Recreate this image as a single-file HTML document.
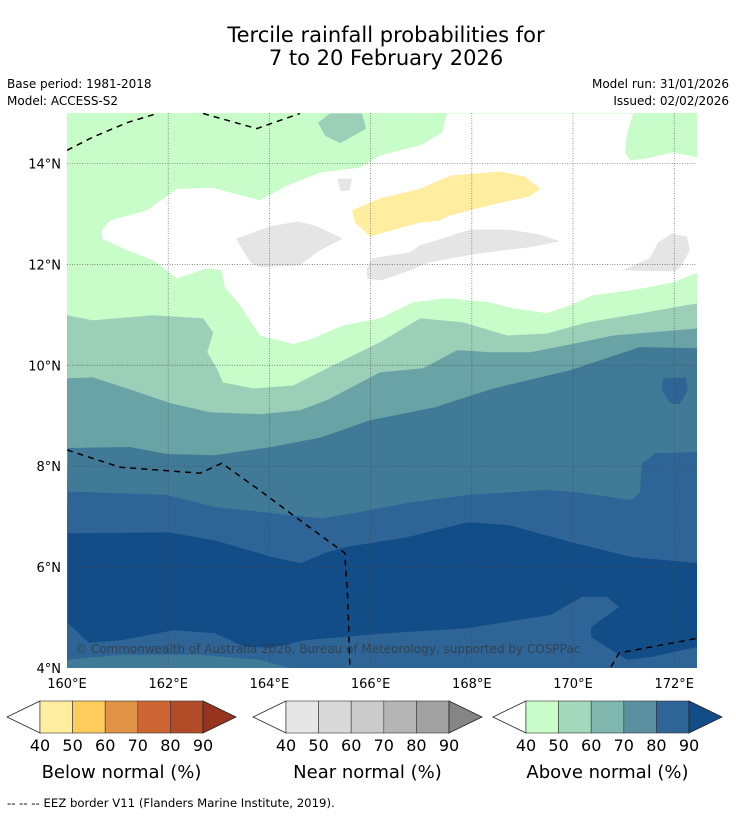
<!DOCTYPE html>
<html><head><meta charset="utf-8"><style>
html,body{margin:0;padding:0;background:#fff;}
svg{display:block;font-family:"DejaVu Sans","Liberation Sans",sans-serif;}
</style></head><body>
<svg id="chart" width="736" height="816" viewBox="0 0 736 816" xmlns="http://www.w3.org/2000/svg">
<text x="386" y="42" font-size="21" text-anchor="middle" fill="#000">Tercile rainfall probabilities for</text>
<text x="386" y="65" font-size="21" text-anchor="middle" fill="#000">7 to 20 February 2026</text>
<text x="7" y="88" font-size="12">Base period: 1981-2018</text>
<text x="7" y="105" font-size="12">Model: ACCESS-S2</text>
<text x="729" y="88" font-size="12" text-anchor="end">Model run: 31/01/2026</text>
<text x="729" y="105" font-size="12" text-anchor="end">Issued: 02/02/2026</text>
<g id="map"></g>
<g id="axes"></g>
<g id="cbars"></g>
<text x="7" y="807" font-size="11.7">--  --  -- EEZ border V11 (Flanders Marine Institute, 2019).</text>
</svg>
<script>
// ---- data (lon/lat) ----
const lonTicks = [160,162,164,166,168,170,172];
const latTicks = [4,6,8,10,12,14];
const whiteLon = [167.51,171.19,171.07,171.03,171.13,171.46,171.98,172.47,172.47,171.98,171.19,170.40,169.94,169.49,168.81,168.36,167.51,166.84,166.19,165.45,164.86,164.47,163.81,163.42,163.12,163.06,162.77,162.17,161.70,161.19,160.69,160.69,160.85,161.58,162.17,162.89,163.28,163.81,164.35,165.00,165.79,166.19,166.98,167.41];
const whiteLat = [14.99,14.99,14.61,14.22,14.06,14.10,14.22,14.12,11.84,11.64,11.49,11.39,11.19,11.03,11.13,11.25,11.33,11.25,10.93,10.79,10.53,10.42,10.59,11.19,11.54,11.88,11.92,11.72,12.08,12.28,12.51,12.67,12.87,13.07,13.50,13.52,13.41,13.27,13.56,13.82,13.92,14.16,14.36,14.61];
const blobTopLon = [165.20,165.83,165.91,165.40,165.10,164.96];
const blobTopLat = [14.99,14.99,14.69,14.40,14.55,14.81];
const grey1Lon = [163.34,164.01,164.55,164.90,165.45,165.00,164.60,163.81,163.62];
const grey1Lat = [12.51,12.75,12.85,12.77,12.51,12.28,11.98,11.94,12.04];
const grey2Lon = [165.34,165.63,165.59,165.41];
const grey2Lat = [13.70,13.70,13.47,13.45];
const grey3Lon = [165.93,166.03,166.78,166.98,167.31,167.96,168.75,169.35,169.74,169.15,168.16,167.17,166.78,166.19,165.93];
const grey3Lat = [11.92,12.12,12.24,12.38,12.48,12.69,12.69,12.59,12.46,12.34,12.22,12.04,11.88,11.68,11.72];
const grey4Lon = [170.97,171.52,171.68,171.96,172.25,172.31,172.15,172.02];
const grey4Lat = [11.88,12.12,12.44,12.61,12.55,12.28,11.98,11.86];
const yellowLon = [165.63,166.19,166.98,167.57,168.56,169.05,169.35,169.15,168.36,167.57,167.37,166.98,166.19,165.99,165.69];
const yellowLat = [13.07,13.31,13.50,13.76,13.84,13.74,13.50,13.35,13.17,12.97,12.87,12.83,12.61,12.55,12.83];
const b50Lon = [160,160.51,161.70,162.69,162.89,162.77,162.96,163.08,163.68,164.47,165.26,166.19,166.98,167.83,168.70,169.49,170.28,171.46,172.47];
const b50Lat = [10.99,10.89,10.99,10.93,10.65,10.26,9.94,9.66,9.54,9.60,10.0,10.46,10.93,10.85,10.59,10.63,10.85,11.05,11.23];
const b60Lon = [160,160.51,161.19,162.04,162.83,163.81,164.60,165.14,165.69,166.19,167.04,167.71,168.36,169.15,169.88,170.79,172.47];
const b60Lat = [9.74,9.76,9.54,9.25,9.07,9.03,9.11,9.31,9.60,9.86,9.94,10.30,10.26,10.26,10.40,10.59,10.73];
const b70Lon = [160.02,161.23,162.00,162.92,164.05,165.02,165.99,167.27,168.42,169.94,171.32,172.47];
const b70Lat = [8.36,8.38,8.24,8.22,8.38,8.57,8.91,9.17,9.54,9.90,10.36,10.34];
const b80Lon = [160.02,160.83,161.96,162.92,164.05,165.02,165.67,166.72,167.92,169.47,170.02,171.15,171.32,171.36,171.64,172.47];
const b80Lat = [7.50,7.47,7.43,7.19,7.07,6.97,7.07,7.27,7.43,7.53,7.49,7.33,7.47,8.06,8.26,8.28];
const blob80Lon = [171.78,172.23,172.27,172.11,171.91,171.76];
const blob80Lat = [9.74,9.76,9.50,9.23,9.25,9.50];
const b90TopLon = [160.02,162.00,162.92,164.05,164.62,165.10,165.51,166.72,167.92,168.74,169.94,171.15,172.47];
const b90TopLat = [6.67,6.69,6.53,6.20,6.08,6.28,6.40,6.59,6.89,6.83,6.50,6.20,6.08];
const b90BotLon = [172.47,171.56,171.07,170.36,170.36,170.91,170.67,170.18,169.55,167.92,166.32,164.70,164.05,163.50,162.92,162.11,161.07,160.43,160.02];
const b90BotLat = [4.42,4.22,4.16,4.61,4.81,5.21,5.41,5.41,5.05,4.79,4.69,4.55,4.40,4.42,4.69,4.75,4.55,4.50,4.89];
const b70BotLon = [160,161.05,162.63,163.81,164.41];
const b70BotLat = [4.16,4.26,4.26,4.16,4.0];
const eez1Lon = [160,160.51,161.19,161.78]; const eez1Lat = [14.26,14.52,14.81,14.99];
const eez2Lon = [162.69,163.75,164.60]; const eez2Lat = [14.99,14.69,14.99];
const eez3Lon = [160,161.05,162.63,163.06,163.81,164.60,165.49,165.55,165.59];
const eez3Lat = [8.32,7.98,7.86,8.06,7.52,6.93,6.28,5.35,4.0];
const eez4Lon = [170.75,170.91,172.47]; const eez4Lat = [4.02,4.30,4.59];
const cbLabels = ["40","50","60","70","80","90"];
const cbTitles = ["Below normal (%)","Near normal (%)","Above normal (%)"];

// ---- axes ----
const X0=67,X1=697,Y0=113,Y1=668,LON0=160,LON1=172.45,LAT0=4,LAT1=15;
const sx = lon => X0 + (lon-LON0)/(LON1-LON0)*(X1-X0);
const sy = lat => Y1 - (lat-LAT0)/(LAT1-LAT0)*(Y1-Y0);
const NS="http://www.w3.org/2000/svg";
function mk(tag, attrs, parent){const e=document.createElementNS(NS,tag);for(const k in attrs)e.setAttribute(k,attrs[k]);parent.appendChild(e);return e;}
const map=document.getElementById('map'), axes=document.getElementById('axes'), cb=document.getElementById('cbars');
const defs=mk('defs',{},map);
const cp=mk('clipPath',{id:'clip'},defs); mk('rect',{x:X0,y:Y0,width:X1-X0,height:Y1-Y0},cp);
const g=mk('g',{'clip-path':'url(#clip)'},map);
function pts(lo,la){return lo.map((l,i)=>sx(l).toFixed(1)+','+sy(la[i]).toFixed(1)).join(' ');}
function band(lo,la,fill,name){
  const p=mk('polygon',{points:pts(lo,la)+' '+sx(LON1+1)+','+(Y1+5)+' '+(X0-5)+','+(Y1+5),fill:fill},g);
  
  
}
function blob(lo,la,fill,name){
  const p=mk('polygon',{points:pts(lo,la),fill:fill},g);
  
  
}
const bg=mk('rect',{x:X0,y:Y0,width:X1-X0,height:Y1-Y0,fill:'#c8fcc8'},g);


blob(whiteLon,whiteLat,'#ffffff','no-signal-region');
blob(blobTopLon,blobTopLat,'#9ccfb8','above-50-patch-north');
blob(grey1Lon,grey1Lat,'#e5e5e5','near-normal-patch-1');
blob(grey2Lon,grey2Lat,'#e5e5e5','near-normal-patch-2');
blob(grey3Lon,grey3Lat,'#e5e5e5','near-normal-patch-3');
blob(grey4Lon,grey4Lat,'#e5e5e5','near-normal-patch-4');
blob(yellowLon,yellowLat,'#ffeda0','below-normal-patch');
band(b50Lon,b50Lat,'#9ccfb8','above-50-band');
band(b60Lon,b60Lat,'#6aa3a5','above-60-band');
band(b70Lon,b70Lat,'#407a97','above-70-band');
band(b80Lon,b80Lat,'#2f6596','above-80-band');
blob(blob80Lon,blob80Lat,'#2f6596','above-80-patch-east');
blob(b90TopLon.concat(b90BotLon),b90TopLat.concat(b90BotLat),'#134d88','above-90-band');
blob(b70BotLon.concat([160]),b70BotLat.concat([4]),'#407a97','above-70-patch-south');
// gridlines
lonTicks.forEach(l=>{ if(l>LON0){const ln=mk('line',{x1:sx(l),x2:sx(l),y1:Y0,y2:Y1,stroke:'#444','stroke-width':0.7,'stroke-dasharray':'1,1.5','stroke-opacity':0.8},g);

}});
latTicks.forEach(l=>{ if(l>LAT0){const ln=mk('line',{x1:X0,x2:X1,y1:sy(l),y2:sy(l),stroke:'#444','stroke-width':0.7,'stroke-dasharray':'1,1.5','stroke-opacity':0.8},g);

}});
// EEZ
[[eez1Lon,eez1Lat],[eez2Lon,eez2Lat],[eez3Lon,eez3Lat],[eez4Lon,eez4Lat]].forEach(a=>{
  const p=mk('polyline',{points:pts(a[0],a[1]),fill:'none',stroke:'#000','stroke-width':1.5,'stroke-dasharray':'6,5'},g);
  
  
});
const cr=mk('text',{x:75,y:653,'font-size':12,fill:'#333','fill-opacity':0.7},g);
cr.textContent='© Commonwealth of Australia 2026, Bureau of Meteorology, supported by COSPPac';


// tick labels
lonTicks.forEach(l=>{const t=mk('text',{x:sx(l),y:688,'font-size':13,'text-anchor':'middle'},axes);t.textContent=l+'°E';

});
latTicks.forEach(l=>{const t=mk('text',{x:61,y:sy(l)+5,'font-size':13,'text-anchor':'end'},axes);t.textContent=l+'°N';

});
// colorbars
const pal=[["#ffeda0","#fecc5c","#e19348","#cd6532","#b24c28","#97331e"],["#e6e6e6","#d9d9d9","#cbcbcb","#b5b5b5","#a1a1a1","#858585"],["#c8fcc8","#a2d8bc","#80b8b0","#5a90a0","#2f6496","#134d88"]];
const cbX=[40,286,526], cbW=163, cbTop=701, cbBot=733, cbMid=717;
pal.forEach((cols,k)=>{
  const x0=cbX[k], w=cbW/5, gg=mk('g',{},cb);
  
  
  mk('polygon',{points:`${x0},${cbTop} ${x0-33},${cbMid} ${x0},${cbBot}`,fill:'#fff',stroke:'#222','stroke-width':0.8},gg);
  for(let i=0;i<5;i++) mk('rect',{x:x0+i*w,y:cbTop,width:w,height:cbBot-cbTop,fill:cols[i],stroke:'#333','stroke-width':0.6},gg);
  mk('polygon',{points:`${x0+cbW},${cbTop} ${x0+cbW+33},${cbMid} ${x0+cbW},${cbBot}`,fill:cols[5],stroke:'#222','stroke-width':0.8},gg);
  cbLabels.forEach((lb,i)=>{const t=mk('text',{x:x0+i*w,y:751,'font-size':16,'text-anchor':'middle'},gg);t.textContent=lb;});
  const tt=mk('text',{x:x0+cbW/2,y:778,'font-size':18,'text-anchor':'middle'},gg);tt.textContent=cbTitles[k];
});
</script>
</body></html>
